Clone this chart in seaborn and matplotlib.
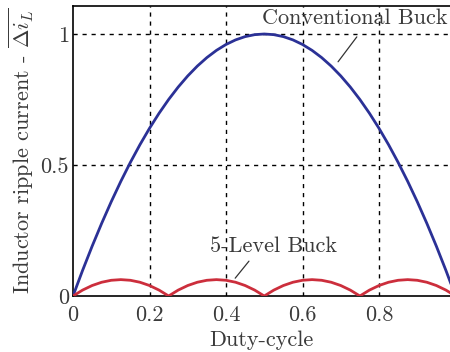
import numpy as np
import pandas as pd
import matplotlib
matplotlib.use("Agg")
import matplotlib.pyplot as plt
import seaborn as sns

duty = [0.0, 0.025, 0.05, 0.075, 0.1, 0.125, 0.15, 0.175, 0.2, 0.225, 0.25,
        0.275, 0.3, 0.325, 0.35, 0.375, 0.4, 0.425, 0.45, 0.475, 0.5,
        0.525, 0.55, 0.575, 0.6, 0.625, 0.65, 0.675, 0.7, 0.725, 0.75,
        0.775, 0.8, 0.825, 0.85, 0.875, 0.9, 0.925, 0.95, 0.975, 1.0]
conventional = [0.0, 0.0975, 0.19, 0.2775, 0.36, 0.4375, 0.51, 0.5775, 0.64, 0.6975, 0.75,
                0.7975, 0.84, 0.8775, 0.91, 0.9375, 0.96, 0.9775, 0.99, 0.9975, 1.0,
                0.9975, 0.99, 0.9775, 0.96, 0.9375, 0.91, 0.8775, 0.84, 0.7975, 0.75,
                0.6975, 0.64, 0.5775, 0.51, 0.4375, 0.36, 0.2775, 0.19, 0.0975, 0.0]
five_level = [0.0, 0.0225, 0.04, 0.0525, 0.06, 0.0625, 0.06, 0.0525, 0.04, 0.0225, 0.0,
              0.0225, 0.04, 0.0525, 0.06, 0.0625, 0.06, 0.0525, 0.04, 0.0225, 0.0,
              0.0225, 0.04, 0.0525, 0.06, 0.0625, 0.06, 0.0525, 0.04, 0.0225, 0.0,
              0.0225, 0.04, 0.0525, 0.06, 0.0625, 0.06, 0.0525, 0.04, 0.0225, 0.0]
x_ticks = [0, 0.2, 0.4, 0.6, 0.8]
x_tick_labels = ["0", "0.2", "0.4", "0.6", "0.8"]
y_ticks = [0, 0.5, 1]
y_tick_labels = ["0", "0.5", "1"]

sns.set_style("white")
plt.rcParams["font.family"] = ["cmr10", "DejaVu Serif"]
plt.rcParams["mathtext.fontset"] = "cm"
plt.rcParams["axes.formatter.use_mathtext"] = True

FS = 16
TXT = "#3a3a3a"

df = pd.DataFrame({"duty": duty, "conv": conventional, "five": five_level})

fig = plt.figure(figsize=(4.5, 3.52), dpi=100)
ax = fig.add_axes([73 / 450, (352 - 296) / 352, (450 - 73) / 450, (296 - 6) / 352])

sns.lineplot(data=df, x="duty", y="conv", ax=ax, color="#2b3196", lw=2.0, zorder=3)
sns.lineplot(data=df, x="duty", y="five", ax=ax, color="#cc2e3c", lw=2.0, zorder=3)

ax.set_xlim(0, 377 / 382.5)
ax.set_ylim(0, 290 / 262)

ax.set_xticks(x_ticks)
ax.set_xticklabels(x_tick_labels)
ax.set_yticks(y_ticks)
ax.set_yticklabels(y_tick_labels)
ax.tick_params(length=0, labelsize=FS, colors=TXT)
ax.tick_params(axis="x", pad=7)
ax.tick_params(axis="y", pad=3)

for v in x_ticks[1:]:
    ax.axvline(v, color="black", lw=1.0, ls=(0, (3, 3.5)), zorder=1)
for v in y_ticks[1:]:
    ax.axhline(v, color="black", lw=1.0, ls=(0, (3, 3.5)), zorder=1)

for side in ["left", "top", "bottom"]:
    ax.spines[side].set_color("black")
    ax.spines[side].set_linewidth(1.2)
ax.spines["right"].set_visible(False)

ax.set_xlabel("Duty-cycle", fontsize=FS, color=TXT, labelpad=4)
ax.set_ylabel(r"Inductor ripple current - $\overline{\Delta i_L}$", fontsize=FS,
              color=TXT, labelpad=3)

ax.text(0.737, 1.06, "Conventional Buck", fontsize=FS, ha="center", va="center",
        color=TXT, zorder=4)
ax.plot([0.693, 0.742], [0.894, 0.989], color="#333333", lw=0.9, zorder=4)
ax.text(0.523, 0.19, "5-Level Buck", fontsize=FS, ha="center", va="center",
        color=TXT, zorder=4)
ax.plot([0.424, 0.46], [0.068, 0.133], color="#333333", lw=0.9, zorder=4)

fig.savefig("out.png", dpi=100)
